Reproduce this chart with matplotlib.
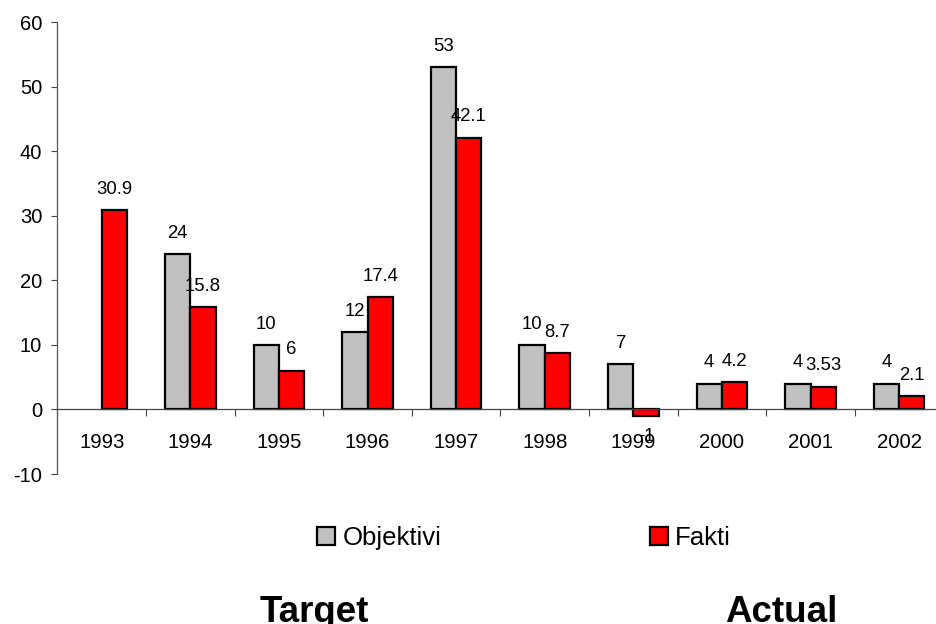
import numpy as np
import matplotlib.pyplot as plt

plt.rcParams['font.family'] = ['Liberation Sans', 'DejaVu Sans']
plt.rcParams['axes.unicode_minus'] = False

years = ['1993', '1994', '1995', '1996', '1997', '1998', '1999', '2000', '2001', '2002']
objektivi = [np.nan, 24, 10, 12, 53, 10, 7, 4, 4, 4]
fakti = [30.9, 15.8, 6, 17.4, 42.1, 8.7, -1, 4.2, 3.53, 2.1]

fig = plt.figure(figsize=(9.37, 6.24), dpi=100)
# axes run a bit past the right edge of the figure
ax = fig.add_axes([57.4 / 937, 150 / 624, 886 / 937, 452 / 624])

x = np.arange(len(years))
w = 0.286
b1 = ax.bar(x - w / 2, objektivi, w, color='#C0C0C0', edgecolor='black',
            linewidth=1.6, label='Objektivi', zorder=2)
b2 = ax.bar(x + w / 2, fakti, w, color='#FF0000', edgecolor='black',
            linewidth=1.6, label='Fakti', zorder=2)

def put_labels(bars, vals):
    for r, v in zip(bars, vals):
        if np.isnan(v):
            continue
        cx = r.get_x() + r.get_width() / 2
        off = 15 if v >= 0 else -15
        ax.annotate(f'{v:g}', (cx, v), xytext=(0, off), textcoords='offset points',
                    ha='center', va='center', fontsize=13.3, zorder=5)

put_labels(b1, objektivi)
put_labels(b2, fakti)

ax.set_xlim(-0.5, len(years) - 0.5)
ax.set_ylim(-10, 60)
ax.set_yticks(range(-10, 61, 10))
ax.tick_params(axis='y', labelsize=14.5, length=4, width=0.8, pad=7, color='#444444')

for s in ['top', 'right']:
    ax.spines[s].set_visible(False)
ax.spines['left'].set_color('#555555')
ax.spines['left'].set_linewidth(0.9)
ax.spines['bottom'].set_position(('data', 0))
ax.spines['bottom'].set_color('#444444')
ax.spines['bottom'].set_linewidth(0.9)

# category boundaries get the tick marks, names sit at the centers
ax.set_xticks(np.arange(-0.5, len(years), 1.0))
ax.set_xticklabels([])
ax.set_xticks(x, minor=True)
ax.set_xticklabels(years, minor=True)
ax.tick_params(axis='x', which='major', direction='out', length=5, width=0.8, color='#444444')
ax.tick_params(axis='x', which='minor', length=0, labelsize=14.7, pad=17)

fig.legend(handles=[b1, b2], loc='center', bbox_to_anchor=(524 / 937, 1 - 538 / 624),
           ncol=2, frameon=False, fontsize=18.5, handlelength=0.7, handleheight=0.7,
           handletextpad=0.3, columnspacing=8.1)

fig.text(314 / 937, 1 - 622 / 624, 'Target', ha='center', va='baseline',
         fontsize=26.5, fontweight='bold')
fig.text(781 / 937, 1 - 622 / 624, 'Actual', ha='center', va='baseline',
         fontsize=26.5, fontweight='bold')

fig.savefig('out.png', dpi=100)
